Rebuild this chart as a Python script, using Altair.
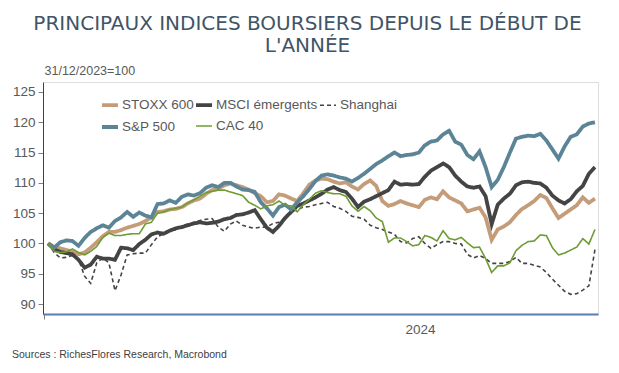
import altair as alt
import pandas as pd

# ~every 3 days from 31/12/2023
dates = pd.date_range("2023-12-31", periods=91, freq="3D")

stoxx600 = [100, 99.4, 99.2, 98.9, 98.7, 98.2, 98.5, 99.3, 100.2, 101.2,
            101.9, 101.9, 102.2, 102.6, 102.9, 103.2, 103.7, 104.3, 105.2, 105.3,
            105.6, 105.7, 106.0, 106.6, 107.1, 107.4, 108.2, 108.8, 109.0, 109.6,
            109.9, 109.6, 109.3, 108.9, 108.3, 107.8, 106.8, 107.0, 108.1, 107.9,
            107.4, 107.0, 108.3, 109.7, 110.4, 110.7, 110.6, 110.2, 109.9, 110.1,
            109.4, 108.9, 109.8, 110.4, 109.5, 107.0, 106.2, 106.5, 107.0, 106.6,
            106.3, 106.0, 107.2, 107.6, 107.3, 108.6, 107.6, 107.1, 106.6, 105.3,
            105.6, 105.9, 104.3, 100.6, 102.3, 102.8, 103.5, 104.7, 105.7, 106.3,
            107.0, 108.0, 107.5, 105.8, 104.2, 104.9, 105.6, 106.3, 107.6, 106.7,
            107.4]

msci_em = [100, 99.0, 98.6, 98.4, 98.2, 97.3, 96.0, 96.5, 97.8, 97.5,
           97.5, 97.3, 99.3, 99.2, 98.9, 99.9, 100.6, 101.5, 101.8, 101.6,
           102.1, 102.5, 102.7, 103.0, 103.3, 103.5, 103.3, 103.4, 103.6, 104.0,
           104.2, 104.7, 104.8, 105.1, 105.5, 104.0, 102.6, 101.9, 102.9, 104.2,
           105.2, 106.2, 106.6, 107.1, 107.6, 108.2, 108.9, 109.3, 108.8, 108.5,
           107.4, 106.0, 106.9, 107.3, 107.8, 108.3, 108.8, 110.2, 109.7, 109.8,
           109.7, 109.8, 111.0, 112.0, 112.6, 113.2, 112.6, 111.2, 110.2, 109.4,
           109.2, 109.4, 107.8, 103.2, 106.4, 107.4, 108.2, 109.6, 110.1, 110.2,
           110.0, 109.9, 109.2, 107.9, 107.1, 106.6, 107.3, 108.6, 109.5, 111.5,
           112.6]

shanghai = [100, 98.5, 97.6, 97.7, 98.0, 97.4, 94.6, 93.4, 96.8, 97.6,
            96.8, 92.2, 94.8, 98.1, 98.3, 98.4, 98.4, 99.8, 101.1, 101.6,
            102.2, 102.2, 102.9, 103.2, 103.5, 103.8, 104.0, 104.1, 102.7, 102.0,
            103.2, 103.7, 103.0, 102.7, 102.5, 102.7, 102.7, 103.3, 103.5, 104.3,
            105.2, 105.6, 106.0, 106.1, 106.4, 106.6, 106.8, 106.1, 105.8, 105.3,
            104.5, 104.3, 104.0, 103.0, 102.6, 102.3, 101.9, 101.5, 100.3, 100.1,
            100.8, 101.1, 100.0, 99.2, 99.8, 100.3, 100.3, 100.0, 99.9, 98.2,
            97.6, 98.0, 97.5, 96.7, 96.7, 96.7, 97.0, 97.7, 96.7, 96.7,
            96.4, 96.1, 95.2, 94.1, 93.1, 92.1, 91.6, 91.7, 92.3, 93.0,
            99.0]

sp500 = [100, 99.3, 100.2, 100.5, 100.4, 99.6, 100.9, 101.9, 102.5, 103.0,
         102.6, 103.7, 104.3, 105.2, 104.4, 105.1, 104.6, 104.3, 106.5, 106.6,
         107.1, 106.7, 107.7, 108.1, 107.9, 108.3, 109.2, 109.6, 109.3, 110.0,
         110.0, 109.4, 108.9, 108.8, 108.5, 106.8, 105.8, 104.6, 106.0, 106.4,
         105.6, 106.8, 107.8, 109.0, 110.3, 111.2, 111.4, 111.2, 110.9, 110.7,
         110.2, 110.8, 111.5, 112.3, 113.1, 113.7, 114.4, 115.0, 114.4, 114.6,
         114.7, 115.0, 116.2, 116.8, 117.0, 118.0, 118.6, 116.8, 116.3, 114.6,
         113.9, 115.2, 112.6, 109.3, 110.5, 112.6, 115.0, 117.3, 117.6, 117.8,
         117.7, 118.1, 117.0, 115.5, 114.0, 116.0, 117.6, 118.0, 119.3, 119.8,
         120.0]

cac40 = [100, 98.7, 98.5, 98.6, 99.1, 98.5, 98.1, 98.7, 99.5, 101.0,
         101.7, 101.3, 101.3, 101.5, 101.6, 101.6, 103.2, 103.5, 105.0, 105.2,
         105.6, 105.8, 106.0, 106.7, 107.2, 107.8, 108.4, 108.6, 108.8, 108.8,
         108.5, 108.2, 107.9, 106.8, 106.3, 105.7, 106.2, 106.4, 107.0, 106.3,
         106.2, 105.2, 106.4, 107.3, 108.3, 108.7, 108.4, 108.2, 108.2, 107.8,
         106.2, 105.3, 106.1, 105.4, 104.2, 103.6, 100.2, 100.9, 100.9, 100.3,
         99.6, 99.8, 101.3, 101.0, 100.4, 102.1, 100.8, 100.6, 101.0, 100.1,
         99.3, 99.4, 97.5, 95.2, 96.3, 96.3, 96.8, 98.8, 99.7, 100.3,
         100.4, 101.4, 101.3, 99.3, 98.1, 98.4, 98.9, 99.4, 100.8, 99.9,
         102.3]

series_names = ["STOXX 600", "MSCI émergents", "Shanghai", "S&P 500", "CAC 40"]
series_values = [stoxx600, msci_em, shanghai, sp500, cac40]
colors = ["#c49c79", "#444444", "#444444", "#5b8597", "#6e9c33"]
dashes = [[1, 0], [1, 0], [4, 3], [1, 0], [1, 0]]
widths = [3.8, 3.8, 1.6, 3.8, 1.6]

rows = []
for name, vals in zip(series_names, series_values):
    for d, v in zip(dates, vals):
        rows.append({"date": d, "series": name, "value": v})
df = pd.DataFrame(rows)

legend = alt.Legend(
    orient="none", legendX=57, legendY=13, columns=3, direction="horizontal",
    title=None, symbolType="stroke", symbolSize=256, labelFont="Liberation Sans",
    labelFontSize=13.5, labelColor="#595959", columnPadding=-7, rowPadding=4,
    labelOffset=2,
)

lines = alt.Chart(df).mark_line(interpolate="linear").encode(
    x=alt.X("date:T",
            scale=alt.Scale(domain=["2023-12-28T11:00:00", "2024-09-27T12:00:00"]),
            axis=alt.Axis(values=[alt.DateTime(year=2023, month=12, date=29)],
                          labels=False, grid=False, tickSize=5, tickColor="#7f7f7f",
                          domainColor="#5b7db1", domainWidth=1.8,
                          title="2024", titleFont="Liberation Sans", titleFontSize=13.5,
                          titleFontWeight="normal", titleColor="#595959",
                          titleX=377, titleY=15, titleAlign="center",
                          titleBaseline="middle")),
    y=alt.Y("value:Q",
            scale=alt.Scale(domain=[88.35, 126.65], nice=False, zero=False),
            axis=alt.Axis(values=[90, 95, 100, 105, 110, 115, 120, 125], grid=False,
                          tickSize=5, tickColor="#7f7f7f", domainColor="#2f4460",
                          labelFont="Liberation Sans", labelFontSize=13.5,
                          labelColor="#595959", labelPadding=3,
                          title="31/12/2023=100", titleAngle=0, titleAlign="left",
                          titleBaseline="middle", titleX=1, titleY=-12,
                          titleFont="Liberation Sans", titleFontSize=12.5,
                          titleFontWeight="normal", titleColor="#595959")),
    color=alt.Color("series:N", scale=alt.Scale(domain=series_names, range=colors),
                    legend=legend),
    strokeDash=alt.StrokeDash("series:N", scale=alt.Scale(domain=series_names, range=dashes),
                              legend=legend),
    strokeWidth=alt.StrokeWidth("series:N",
                                scale=alt.Scale(type="ordinal", domain=series_names, range=widths),
                                legend=legend),
)

footer = alt.Chart(pd.DataFrame({"t": ["Sources : RichesFlores Research, Macrobond"]})).mark_text(
    align="left", baseline="middle", font="Liberation Sans", fontSize=10.5, color="#404040"
).encode(text="t:N", x=alt.value(-31), y=alt.value(273))

chart = alt.layer(lines, footer).properties(
    width=555, height=232,
    autosize=alt.AutoSizeParams(type="none"),
    padding={"left": 35, "top": 74, "right": 12, "bottom": 45},
    title=alt.Title(
        text=["PRINCIPAUX INDICES BOURSIERS DEPUIS LE DÉBUT DE", "L'ANNÉE"],
        font="DejaVu Sans", fontSize=20, fontWeight="normal", color="#3f5567",
        anchor="middle", dx=-13, lineHeight=22, offset=8,
    ),
).configure_view(stroke=None).configure(background="white")

chart.save("out.html", embed_options={"renderer": "svg", "actions": False})
